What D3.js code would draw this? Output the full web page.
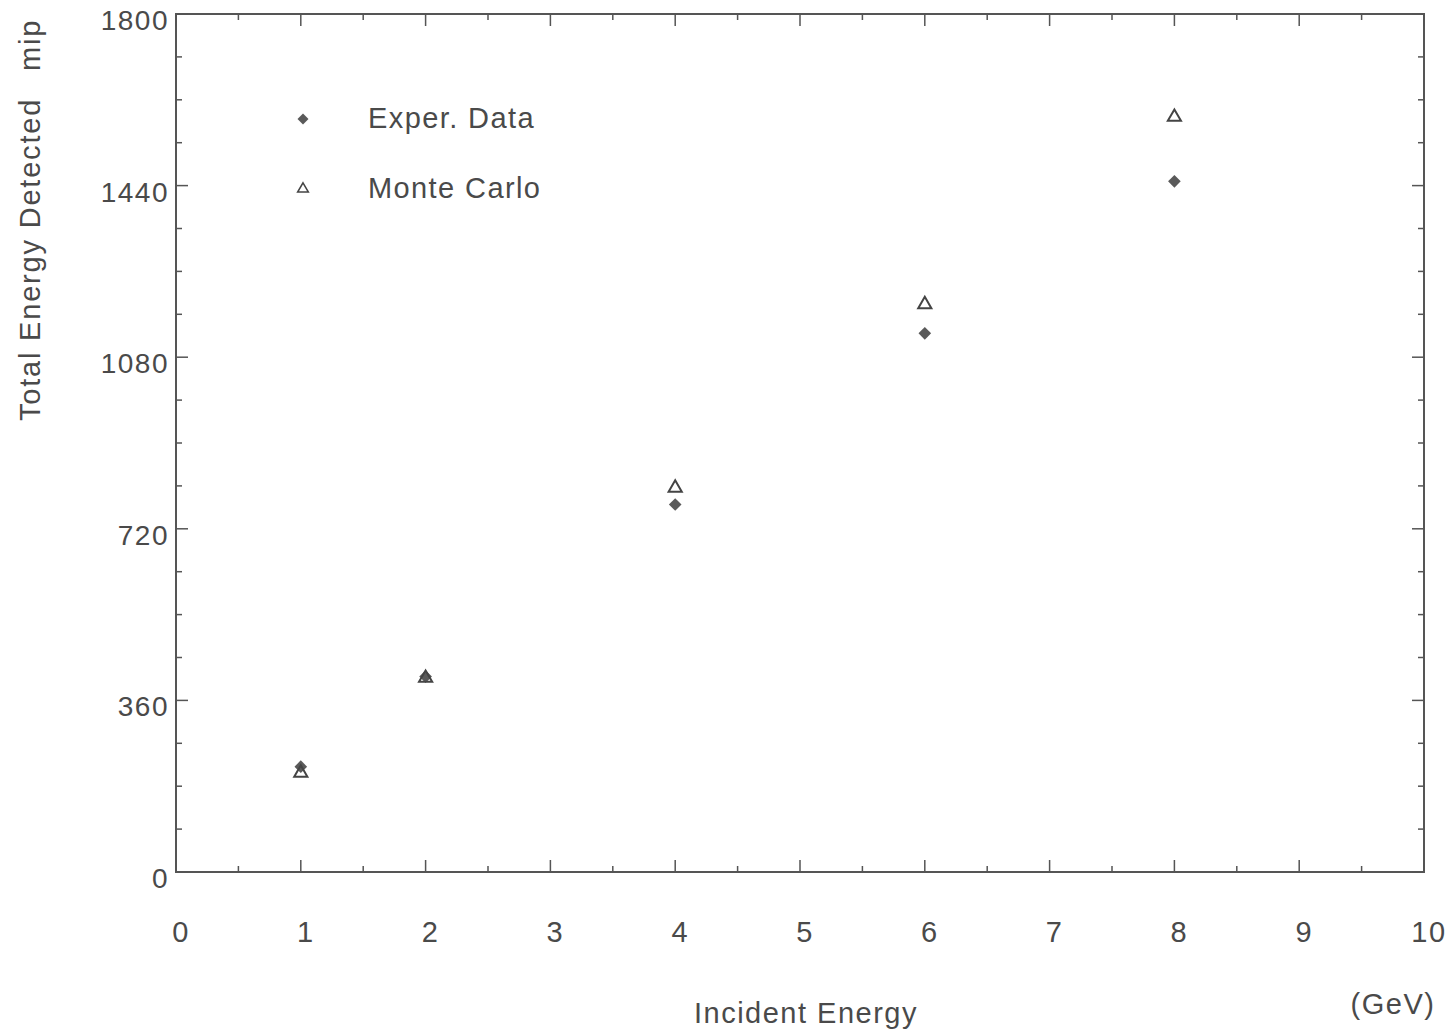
<!DOCTYPE html>
<html><head><meta charset="utf-8">
<script src="https://cdn.jsdelivr.net/npm/d3@7"></script>
<style>
html,body{margin:0;padding:0;background:#fff;}
text{font-family:"Liberation Sans",Arial,Helvetica,sans-serif;fill:#4a4a4a;}
</style></head>
<body>
<svg id="chart" width="1451" height="1036"></svg>
<script>
const energies = [1, 2, 4, 6, 8];
const experData = [221, 410, 771, 1130, 1449];
const monteCarlo = [210, 409, 808, 1193, 1586];
const xTicks = [0,1,2,3,4,5,6,7,8,9,10];
const yTicks = [0,360,720,1080,1440,1800];
const seriesNames = ["Exper. Data", "Monte Carlo"];

const svg = d3.select("#chart");
const m = {l:176, r:1424, t:14, b:872};
const x = d3.scaleLinear().domain([0,10]).range([m.l, m.r]);
const y = d3.scaleLinear().domain([0,1800]).range([m.b, m.t]);
const ink = "#555";

// frame
svg.append("rect").attr("x",m.l).attr("y",m.t).attr("width",m.r-m.l).attr("height",m.b-m.t)
  .attr("fill","none").attr("stroke",ink).attr("stroke-width",2);

// ticks
const xMinor = d3.range(0,10.01,0.5);
const yMinor = d3.range(0,1800.1,90);
function isMajorX(v){return Math.abs(v-Math.round(v))<1e-6;}
function isMajorY(v){return Math.abs(v%360)<1e-6;}
const g = svg.append("g").attr("stroke",ink).attr("stroke-width",1.5);
xMinor.forEach(v=>{
  const L = isMajorX(v)?12:6;
  g.append("line").attr("x1",x(v)).attr("x2",x(v)).attr("y1",m.b).attr("y2",m.b-L);
  g.append("line").attr("x1",x(v)).attr("x2",x(v)).attr("y1",m.t).attr("y2",m.t+L);
});
yMinor.forEach(v=>{
  const L = isMajorY(v)?12:6;
  g.append("line").attr("y1",y(v)).attr("y2",y(v)).attr("x1",m.l).attr("x2",m.l+L);
  g.append("line").attr("y1",y(v)).attr("y2",y(v)).attr("x1",m.r).attr("x2",m.r-L);
});

// tick labels
svg.append("g").selectAll("text").data(xTicks).join("text")
  .attr("x",d=>x(d)+5).attr("y",942).attr("text-anchor","middle")
  .attr("font-size",29).attr("letter-spacing",1.5).text(d=>d);
svg.append("g").selectAll("text").data(yTicks).join("text")
  .attr("x",169).attr("y",d=>y(d)+16).attr("text-anchor","end")
  .attr("font-size",28).attr("letter-spacing",1.5).text(d=>d);

// axis titles
svg.append("text").attr("x",806).attr("y",1023).attr("text-anchor","middle")
  .attr("font-size",29).attr("letter-spacing",1.5).text("Incident Energy");
svg.append("text").attr("x",1393).attr("y",1014).attr("text-anchor","middle")
  .attr("font-size",29).attr("letter-spacing",1.5).text("(GeV)");
svg.append("text").attr("transform","translate(40,421) rotate(-90)")
  .attr("text-anchor","start").attr("font-size",29).attr("letter-spacing",1.8).text("Total Energy Detected");
svg.append("text").attr("transform","translate(40,71) rotate(-90)")
  .attr("text-anchor","start").attr("font-size",29).attr("letter-spacing",1.8).text("mip");

// markers
const diamond = d3.symbol().type(d3.symbolSquare).size(80);
const tri = d3.symbol().type(d3.symbolTriangle).size(75);
svg.append("g").selectAll("path").data(energies).join("path")
  .attr("transform",(d,i)=>`translate(${x(d)},${y(experData[i])}) rotate(45)`)
  .attr("d",diamond).attr("fill","#5a5a5a");
svg.append("g").selectAll("path").data(energies).join("path")
  .attr("transform",(d,i)=>`translate(${x(d)},${y(monteCarlo[i])+1})`)
  .attr("d",tri).attr("fill","none").attr("stroke","#444").attr("stroke-width",2);

// legend
svg.append("path").attr("transform","translate(303,119) rotate(45)").attr("d",d3.symbol().type(d3.symbolSquare).size(60)).attr("fill","#5a5a5a");
svg.append("path").attr("transform","translate(303,189)").attr("d",d3.symbol().type(d3.symbolTriangle).size(50)).attr("fill","none").attr("stroke","#444").attr("stroke-width",1.5);
svg.append("text").attr("x",368).attr("y",128).attr("font-size",29).attr("letter-spacing",1.4).text(seriesNames[0]);
svg.append("text").attr("x",368).attr("y",198).attr("font-size",29).attr("letter-spacing",1.4).text(seriesNames[1]);
</script>
</body></html>
